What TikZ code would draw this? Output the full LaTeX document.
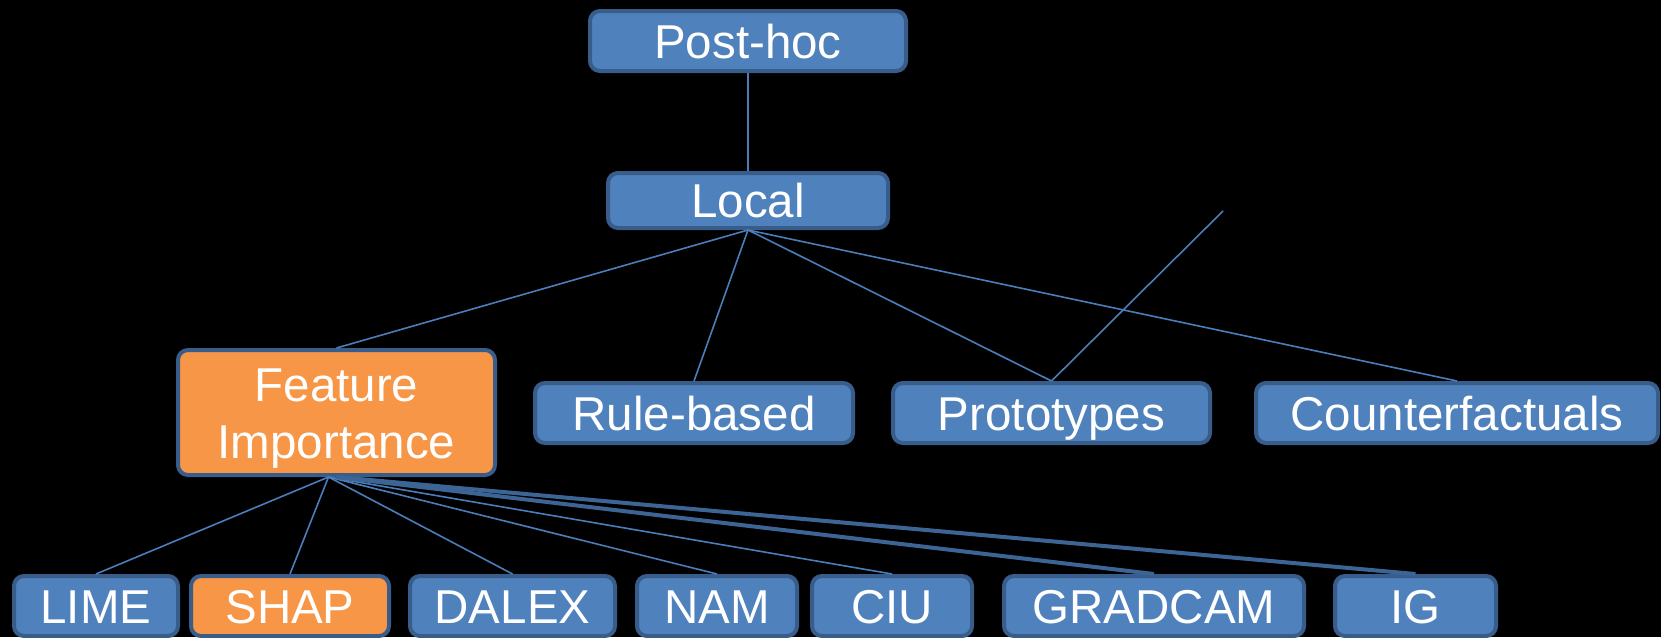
\documentclass[tikz,border=0pt]{standalone}
\usepackage{fontspec}
\setmainfont{Liberation Sans}
\definecolor{boxblue}{HTML}{4F81BD}
\definecolor{boxedge}{HTML}{385D8A}
\definecolor{boxorange}{HTML}{F79646}
\definecolor{linkblue}{HTML}{4A7EBB}
\definecolor{linkdark}{HTML}{3C6494}
\begin{document}
\begin{tikzpicture}[x=1pt,y=-1pt,
  box/.style={draw=boxedge, line width=4pt, fill=boxblue, rounded corners=10pt,
    inner sep=0pt, text=white, font=\fontsize{47.5}{57}\selectfont,
    text height=34pt, text depth=0pt, minimum height=60pt},
  hot/.style={fill=boxorange},
  link/.style={draw=linkblue, line width=1.6pt},
  heavylink/.style={draw=linkdark, line width=4pt}]

% canvas
\useasboundingbox (0,0) rectangle (1661,637);
\fill[black] (0,0) rectangle (1661,637);

% top levels
\node[box, minimum width=316pt] (posthoc) at (748,41) {Post-hoc};
\node[box, minimum width=280pt, minimum height=55pt] (local) at (748,200.5) {Local};

% explanation families
\node[box, hot, minimum width=317pt, minimum height=125pt, align=center,
      text height=91pt] (fi) at (336.5,412.5) {Feature\\Importance};
\node[box, minimum width=318pt] (rule)  at (694,413)    {Rule-based};
\node[box, minimum width=317pt] (proto) at (1051.5,413) {Prototypes};
\node[box, minimum width=402pt] (cf)    at (1457,413)   {Counterfactuals};

% feature-importance methods
\node[box, minimum width=164pt] (lime)    at (96,606)     {LIME};
\node[box, hot, minimum width=198pt] (shap) at (290,606)  {SHAP};
\node[box, minimum width=205pt] (dalex)   at (512.5,606)  {DALEX};
\node[box, minimum width=160pt] (nam)     at (717,606)    {NAM};
\node[box, minimum width=160pt] (ciu)     at (892,606)    {CIU};
\node[box, minimum width=300pt] (gradcam) at (1154,606)   {GRADCAM};
\node[box, minimum width=161pt] (ig)      at (1415.5,606) {IG};

\coordinate (fihub) at ([xshift=-8pt]fi.south);
\coordinate (loose) at (1223,211);

% connectors
\path[link] (posthoc.south) -- (local.north);
\path[link] (local.south) -- (fi.north);
\path[link] (local.south) -- (rule.north);
\path[link] (local.south) -- (proto.north);
\path[link] (local.south) -- (cf.north);
\path[link] (proto.north) -- (loose);

\path[link] (fihub) -- (lime.north);
\path[link] (fihub) -- (shap.north);
\path[link] (fihub) -- (dalex.north);
\path[link] (fihub) -- (nam.north);
\path[link] (fihub) -- (ciu.north);
\path[heavylink] (fi.south) -- (gradcam.north);
\path[heavylink] (fi.south) -- (ig.north);
\end{tikzpicture}
\end{document}
